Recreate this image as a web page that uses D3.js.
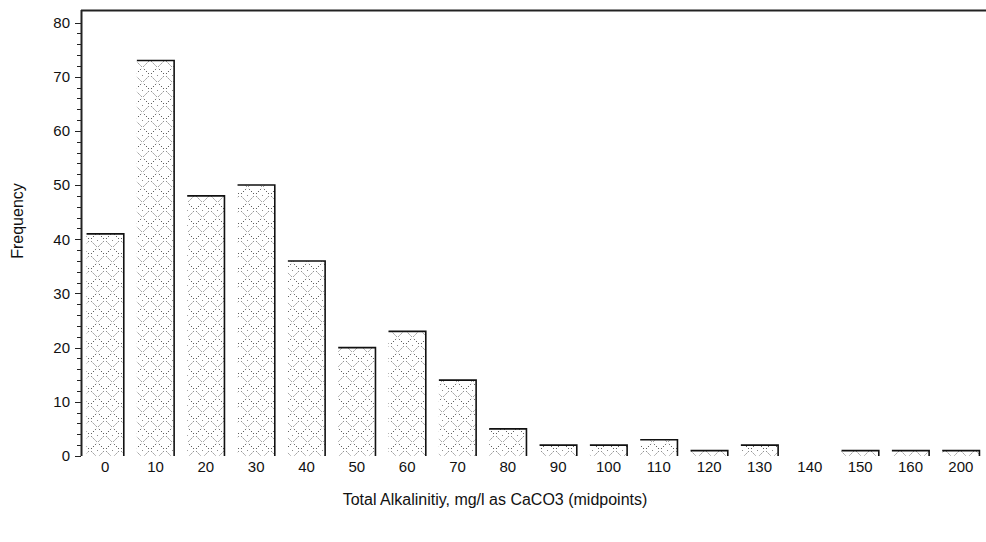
<!DOCTYPE html>
<html><head><meta charset="utf-8">
<script src="https://cdn.jsdelivr.net/npm/d3@7"></script>
<style>body{margin:0;background:#fff;} text{font-family:"Liberation Sans",Arial,sans-serif;fill:#111;}</style>
</head><body>
<svg id="chart" width="986" height="542"></svg>
<script>
const categories = ["0","10","20","30","40","50","60","70","80","90","100","110","120","130","140","150","160","200"];
const frequencies = [41,73,48,50,36,20,23,14,5,2,2,3,1,2,0,1,1,1];
const yTicks = [0,10,20,30,40,50,60,70,80];
const xTitle = "Total Alkalinitiy, mg/l as CaCO3 (midpoints)";
const yTitle = "Frequency";

const svg = d3.select("#chart");
const axLeft = 81, axRight = 986, axTop = 10, baseY = 456;
const y = d3.scaleLinear().domain([0,80]).range([baseY, 22.5]);
const x = d3.scaleBand().domain(categories).range([80, 986]).paddingInner(0.26).paddingOuter(0.13);

// pattern
const defs = svg.append("defs");
const pat = defs.append("pattern").attr("id","hatch").attr("patternUnits","userSpaceOnUse")
  .attr("width",15).attr("height",15);
pat.append("rect").attr("width",15).attr("height",15).attr("fill","#fff");
pat.append("path").attr("d","M0,0 L15,15 M15,0 L0,15").attr("stroke","#444").attr("stroke-width",1)
  .attr("stroke-dasharray","1.2,1.8,1.2,1.8,1.2,3.4").attr("stroke-dashoffset",-2).attr("fill","none");
pat.append("circle").attr("cx",7.5).attr("cy",0.5).attr("r",0.5).attr("fill","#666");

// bars
const g = svg.append("g");
frequencies.forEach((v,i)=>{
  if (v<=0) return;
  const x0 = x(categories[i]), w = x.bandwidth(), yt = y(v);
  g.append("rect").attr("x",x0).attr("y",yt).attr("width",w).attr("height",baseY-yt).attr("fill","url(#hatch)");
  g.append("path").attr("d",`M${x0},${yt} H${x0+w} V${baseY}`).attr("fill","none").attr("stroke","#111").attr("stroke-width",1.6);
});

// frame lines
svg.append("line").attr("x1",axLeft).attr("x2",axRight).attr("y1",axTop+0.5).attr("y2",axTop+0.5).attr("stroke","#222").attr("stroke-width",2);
svg.append("line").attr("x1",axLeft+0.5).attr("x2",axLeft+0.5).attr("y1",axTop).attr("y2",baseY).attr("stroke","#222").attr("stroke-width",2);

// y axis
const minor = d3.range(0,82,2).filter(d=>d%10!==0);
svg.append("g").selectAll("line").data(minor).join("line")
  .attr("x1",axLeft-4).attr("x2",axLeft).attr("y1",d=>Math.round(y(d))+0.5).attr("y2",d=>Math.round(y(d))+0.5)
  .attr("stroke","#222").attr("stroke-width",1);
svg.append("g").selectAll("line").data(yTicks).join("line")
  .attr("x1",axLeft-6).attr("x2",axLeft).attr("y1",d=>Math.round(y(d))+0.5).attr("y2",d=>Math.round(y(d))+0.5)
  .attr("stroke","#222").attr("stroke-width",1);
svg.append("g").selectAll("text").data(yTicks).join("text")
  .attr("x",70).attr("y",d=>y(d)).attr("dy","0.35em").attr("text-anchor","end")
  .attr("font-size",15).text(d=>d);

// x labels
svg.append("g").selectAll("text").data(categories).join("text")
  .attr("x",d=>x(d)+x.bandwidth()/2).attr("y",467).attr("dy","0.35em").attr("text-anchor","middle")
  .attr("font-size",15).text(d=>d);

svg.append("text").attr("x",495).attr("y",505).attr("text-anchor","middle").attr("font-size",16).text(xTitle);
svg.append("text").attr("transform","translate(23,221) rotate(-90)").attr("text-anchor","middle").attr("font-size",16).text(yTitle);
</script>
</body></html>
